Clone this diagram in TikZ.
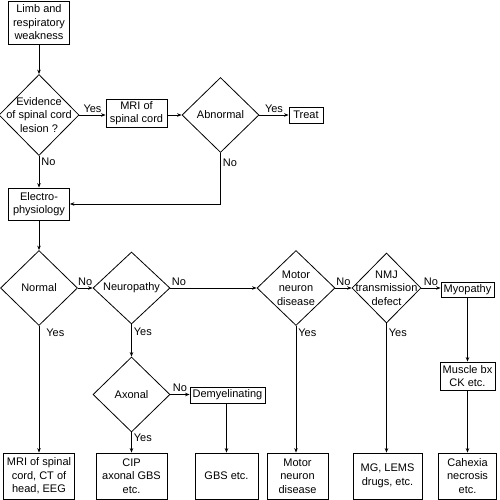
\documentclass[tikz,border=0pt]{standalone}
\usepackage{fontspec}
\setmainfont{Liberation Sans}
\usetikzlibrary{shapes.geometric,arrows.meta}

\begin{document}
\begin{tikzpicture}[x=1pt,y=1pt,yscale=-1,
	every node/.style={font=\fontsize{11}{13.5}\selectfont},
	box/.style={draw, line width=0.8pt, inner sep=0pt, align=center},
	dia/.style={draw, diamond, line width=0.8pt, inner sep=0pt},
	txt/.style={align=center, inner sep=0pt},
	lbl/.style={inner sep=2pt},
	arr/.style={line width=0.8pt, -{Stealth[length=4.5pt,width=3.5pt]}}]
	\useasboundingbox (0,0) rectangle (499,500);

	%Shape: Rectangle [id:limb]
	\node [box, minimum width=61pt, minimum height=43pt] (limb) at (39,22.5) {Limb and\\respiratory\\weakness};
	%Shape: Diamond [id:evid]
	\node [dia, minimum width=80pt, minimum height=81pt, label={[txt]center:Evidence\\of spinal cord\\lesion ?}] (evid) at (39,115) {};
	%Shape: Rectangle [id:mri]
	\node [box, minimum width=61pt, minimum height=28pt] (mri) at (136.5,113) {MRI of\\spinal cord};
	%Shape: Diamond [id:abn]
	\node [dia, minimum width=77pt, minimum height=75pt, label={[txt]center:Abnormal}] (abn) at (220.5,115) {};
	%Shape: Rectangle [id:treat]
	\node [box, minimum width=34pt, minimum height=16pt] (treat) at (306,115) {Treat};
	%Shape: Rectangle [id:elec]
	\node [box, minimum width=61pt, minimum height=32pt] (elec) at (39,204) {Electro-\\physiology};

	%Shape: Diamond [id:normal]
	\node [dia, minimum width=77pt, minimum height=75pt, label={[txt]center:Normal}] (normal) at (39,288) {};
	%Shape: Diamond [id:neuro]
	\node [dia, minimum width=77pt, minimum height=72pt, label={[txt]center:Neuropathy}] (neuro) at (131.5,288) {};
	%Shape: Diamond [id:motor]
	\node [dia, minimum width=78pt, minimum height=75pt, label={[txt]center:Motor\\neuron\\disease}] (motor) at (296,288) {};
	%Shape: Diamond [id:nmj]
	\node [dia, minimum width=69pt, minimum height=70pt, label={[txt]center:NMJ\\transmission\\defect}] (nmj) at (386.5,288) {};
	%Shape: Rectangle [id:myo]
	\node [box, minimum width=53pt, minimum height=15pt] (myo) at (467.5,289.5) {Myopathy};
	%Shape: Rectangle [id:muscle]
	\node [box, minimum width=55pt, minimum height=28pt] (muscle) at (467.5,376) {Muscle bx\\CK etc.};
	%Shape: Diamond [id:axonal]
	\node [dia, minimum width=77pt, minimum height=75pt, label={[txt]center:Axonal}] (axonal) at (131.5,394.5) {};
	%Shape: Rectangle [id:demy]
	\node [box, minimum width=75pt, minimum height=16pt] (demy) at (227.5,395) {Demyelinating};

	%Shape: Rectangle [id:out1..out6]
	\node [box, minimum width=71pt, minimum height=46pt] (out1) at (39,476) {MRI of spinal\\cord, CT of\\head, EEG};
	\node [box, minimum width=71pt, minimum height=46pt] (out2) at (131.5,476) {CIP\\axonal GBS\\etc.};
	\node [box, minimum width=63pt, minimum height=46pt] (out3) at (226.5,476) {GBS etc.};
	\node [box, minimum width=61pt, minimum height=46pt] (out4) at (297.5,476) {Motor\\neuron\\disease};
	\node [box, minimum width=69pt, minimum height=46pt] (out5) at (387.5,476) {MG, LEMS\\drugs, etc.};
	\node [box, minimum width=58pt, minimum height=46pt] (out6) at (467.5,476) {Cahexia\\necrosis\\etc.};

	%Straight Lines
	\draw [arr] (limb.south) -- (evid.north);
	\draw [arr] (evid.east) -- (mri.west |- evid.east) node [lbl, midway, above] {Yes};
	\draw [arr] (mri.east |- abn.west) -- (abn.west);
	\draw [arr] (abn.east) -- (treat.west |- abn.east) node [lbl, midway, above] {Yes};
	\draw [arr] (evid.south) -- (elec.north) node [lbl, pos=0.2, right] {No};
	\draw [arr] (abn.south) |- (elec.east) node [lbl, pos=0.1, right] {No};
	\draw [arr] (elec.south) -- (normal.north);
	\draw [arr] (normal.east) -- (neuro.west) node [lbl, midway, above] {No};
	\draw [arr] (neuro.east) -- (motor.west) node [lbl, pos=0.1, above] {No};
	\draw [arr] (motor.east) -- (nmj.west) node [lbl, midway, above] {No};
	\draw [arr] (nmj.east) -- (myo.west |- nmj.east) node [lbl, midway, above] {No};
	\draw [arr] (myo.south) -- (muscle.north);
	\draw [arr] (muscle.south) -- (out6.north);
	\draw [arr] (normal.south) -- (out1.north) node [lbl, pos=0.055, right, xshift=5pt] {Yes};
	\draw [arr] (neuro.south) -- (axonal.north) node [lbl, pos=0.22, right] {Yes};
	\draw [arr] (axonal.east) -- (demy.west |- axonal.east) node [lbl, midway, above] {No};
	\draw [arr] (axonal.south) -- (out2.north) node [lbl, pos=0.29, right] {Yes};
	\draw [arr] (demy.south -| out3.north) -- (out3.north);
	\draw [arr] (motor.south) -- (motor.south |- out4.north) node [lbl, pos=0.055, right] {Yes};
	\draw [arr] (nmj.south) -- (nmj.south |- out5.north) node [lbl, pos=0.07, right] {Yes};
\end{tikzpicture}
\end{document}
